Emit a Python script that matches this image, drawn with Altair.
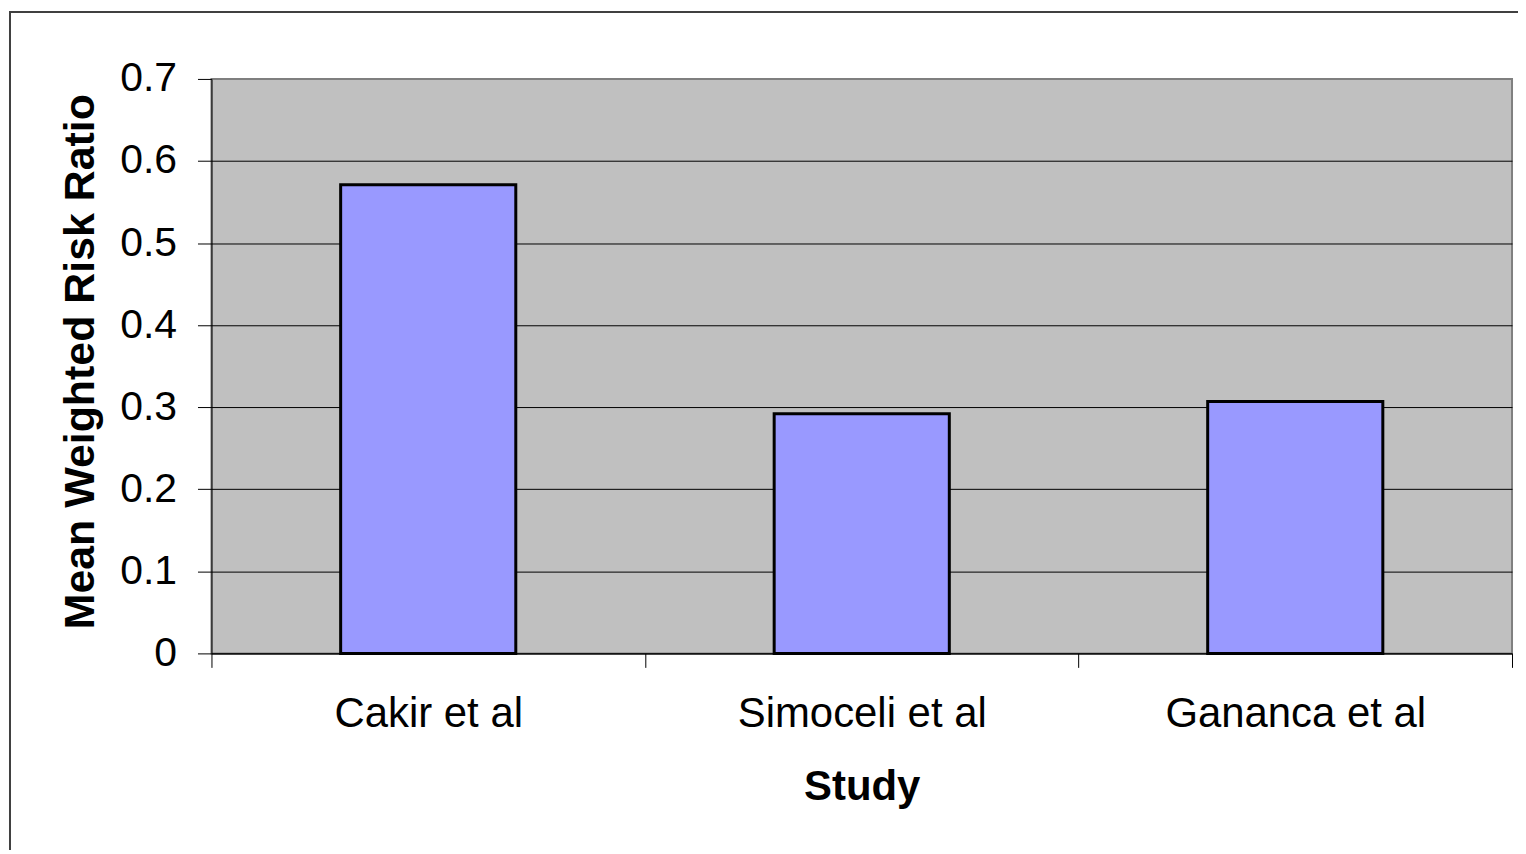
import altair as alt
import pandas as pd

studies = ["Cakir et al", "Simoceli et al", "Gananca et al"]
ratios = [0.571, 0.292, 0.307]
y_ticks = [0, 0.1, 0.2, 0.3, 0.4, 0.5, 0.6, 0.7]

df = pd.DataFrame({"Study": studies, "Ratio": ratios})

FONT = "Liberation Sans"

bars = alt.Chart(df).mark_bar(
    color="#9999FF", stroke="black", strokeWidth=3,
    width=alt.RelativeBandSize(0.404)
).encode(
    x=alt.X(
        "Study:N", sort=studies,
        scale=alt.Scale(paddingInner=0, paddingOuter=0),
        axis=alt.Axis(
            title="Study", labelAngle=0, tickBand="extent", tickSize=14,
            labelPadding=26, labelFontSize=42, labelLimit=600, grid=False,
            titleFontSize=42, titleFontWeight="bold",
            titleX=652, titleY=146, titleBaseline="alphabetic", titleAlign="center",
        ),
    ),
    y=alt.Y(
        "Ratio:Q",
        scale=alt.Scale(domain=[0, 0.7], nice=False),
        axis=alt.Axis(
            title="Mean Weighted Risk Ratio", values=y_ticks, format=".1~f",
            tickSize=14, labelPadding=21, labelFontSize=41, grid=True,
            gridColor=alt.condition("datum.value >= 0.69", alt.value("#808080"), alt.value("black")),
            gridWidth=1,
            titleFontSize=43, titleFontWeight="bold", titleAngle=270,
            titleX=-118, titleY=283, titleBaseline="alphabetic", titleAlign="center",
        ),
    ),
)

border = alt.Chart(alt.Data(values=[{"a": 1}])).mark_rect(
    fill=None, stroke="#404040", strokeWidth=2
).encode(
    x=alt.value(-202), x2=alt.value(1340),
    y=alt.value(-67), y2=alt.value(800),
)

chart = alt.layer(bars, border).properties(
    width=1304, height=576,
    autosize=alt.AutoSizeParams(type="none"),
    padding={"left": 204, "top": 70, "right": 6, "bottom": 196},
).configure_view(
    fill="#C0C0C0", stroke="#808080", strokeWidth=2
).configure_axis(
    labelFont=FONT, titleFont=FONT, labelColor="black", titleColor="black",
    domainColor="black", tickColor="black", domainWidth=1, tickWidth=1,
)

chart.save("out.html", embed_options={"renderer": "svg", "actions": False})
